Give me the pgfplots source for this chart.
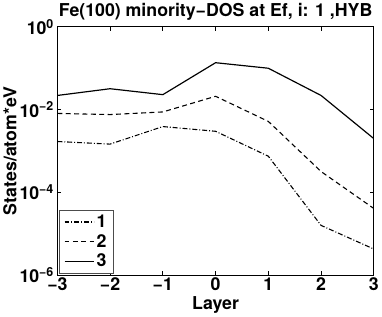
\documentclass[border=0pt]{standalone}
\usepackage{fontspec}
\setmainfont{TeX Gyre Heros}
\usepackage{pgfplots}
\pgfplotsset{compat=1.18}
\newcommand{\ff}{\fontsize{18}{21}\selectfont\bfseries}
\begin{document}
\begin{tikzpicture}
\begin{semilogyaxis}[
  scale only axis, width=321pt, height=252pt,
  xmin=-3, xmax=3, ymin=1e-6, ymax=1,
  xtick={-3,-2,-1,0,1,2,3},
  xticklabels={−3,−2,−1,0,1,2,3},
  ytick={1e-6,1e-4,1e-2,1},
  yticklabels={10\textsuperscript{−6},10\textsuperscript{−4},10\textsuperscript{−2},10\textsuperscript{0}},
  yminorticks=false,
  tick align=inside, major tick length=4pt,
  axis line style={line width=1.2pt},
  every tick/.style={black, line width=1pt},
  tick label style={font=\ff},
  xticklabel style={yshift=1pt},
  label style={font=\ff},
  title style={font=\ff, yshift=-3pt},
  title={Fe(100) minority−DOS at Ef, i: 1 ,HYB},
  xlabel={Layer}, ylabel={States/atom*eV},
  xlabel style={yshift=1pt}, ylabel style={yshift=-4pt},
  legend cell align=left,
  legend style={draw=black!70, line width=0.7pt, font=\ff,
    inner xsep=5pt, inner ysep=3pt, row sep=1.5pt, at={(0.004,0.006)}, anchor=south west,
    nodes={inner sep=2pt}},
  legend image code/.code={\draw[#1, line width=1.3pt] (0pt,0pt) -- (30pt,0pt);},
]
\addplot[black, line width=1.1pt, dash pattern=on 5pt off 2pt on 1pt off 2pt] coordinates {
 (-3,0.0017) (-2,0.00147) (-1,0.0039) (0,0.0030) (1,7.5e-4) (2,1.6e-5) (3,4.3e-6)};
\addlegendentry{1}
\addplot[black, line width=1.1pt, dash pattern=on 5pt off 3.5pt] coordinates {
 (-3,0.0081) (-2,0.0076) (-1,0.0088) (0,0.021) (1,0.0052) (2,3.2e-4) (3,4.1e-5)};
\addlegendentry{2}
\addplot[black, line width=1.2pt] coordinates {
 (-3,0.022) (-2,0.032) (-1,0.023) (0,0.136) (1,0.1) (2,0.022) (3,0.0020)};
\addlegendentry{3}
\end{semilogyaxis}
\end{tikzpicture}
\end{document}
